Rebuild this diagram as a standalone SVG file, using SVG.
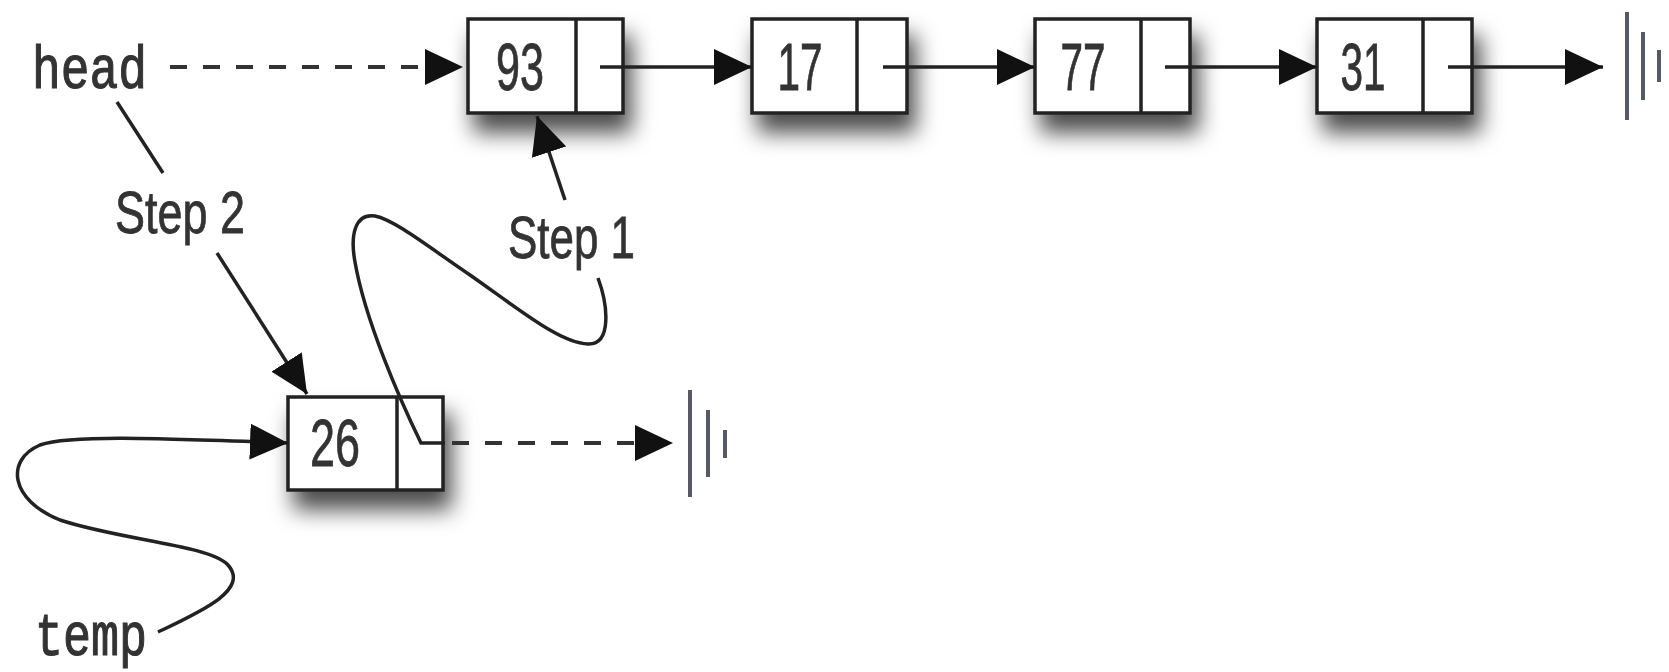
<svg xmlns="http://www.w3.org/2000/svg" width="1669" height="672" viewBox="0 0 1669 672">
<style>
.box{fill:#fff;stroke:#222;stroke-width:3.5}
.div{stroke:#222;stroke-width:3.5}
.num{font-family:"Liberation Sans",Arial,sans-serif;font-size:66px;fill:#333;stroke:#333;stroke-width:0.8;text-anchor:middle}
.lbl{font-family:"Liberation Sans",Arial,sans-serif;font-size:60px;fill:#333;stroke:#333;stroke-width:0.8}
.mono{font-family:"Liberation Mono","Courier New",monospace;font-size:62px;fill:#333;stroke:#333;stroke-width:1.2}
.ln{fill:none;stroke:#222;stroke-width:3.5}
.dash{fill:none;stroke:#333;stroke-width:4;stroke-dasharray:17 16}
.gnd{stroke:#555a66;stroke-width:4}
</style>
<defs>
<filter id="sh" x="-30%" y="-30%" width="180%" height="220%">
<feDropShadow dx="7" dy="18" stdDeviation="11" flood-color="#000" flood-opacity="0.7"/>
</filter>
<marker id="ah" viewBox="0 0 38 36" refX="38" refY="18" markerWidth="38" markerHeight="36" markerUnits="userSpaceOnUse" orient="auto">
<path d="M0,0 L38,18 L0,36 z" fill="#111"/>
</marker>
</defs>
<rect width="1669" height="672" fill="#fff"/>

<g id="node-head"><text class="mono" x="32" y="88" textLength="115" lengthAdjust="spacingAndGlyphs">head</text></g>
<g id="node-temp"><text class="mono" x="35" y="655" textLength="112" lengthAdjust="spacingAndGlyphs">temp</text></g>
<g id="node-step2"><text class="lbl" x="115" y="233" textLength="130" lengthAdjust="spacingAndGlyphs">Step 2</text></g>
<g id="node-step1"><text class="lbl" x="508" y="258" textLength="127" lengthAdjust="spacingAndGlyphs">Step 1</text></g>

<g id="node-93">
<rect class="box" x="468" y="19" width="155" height="94" filter="url(#sh)"/>
<line class="div" x1="576" y1="19" x2="576" y2="113"/>
<text class="num" x="520" y="90" textLength="48" lengthAdjust="spacingAndGlyphs">93</text>
</g>
<g id="node-17">
<rect class="box" x="752" y="19" width="155" height="94" filter="url(#sh)"/>
<line class="div" x1="857" y1="19" x2="857" y2="113"/>
<text class="num" x="800" y="90" textLength="45" lengthAdjust="spacingAndGlyphs">17</text>
</g>
<g id="node-77">
<rect class="box" x="1035" y="19" width="155" height="94" filter="url(#sh)"/>
<line class="div" x1="1141" y1="19" x2="1141" y2="113"/>
<text class="num" x="1083" y="90" textLength="45" lengthAdjust="spacingAndGlyphs">77</text>
</g>
<g id="node-31">
<rect class="box" x="1317" y="19" width="155" height="94" filter="url(#sh)"/>
<line class="div" x1="1423" y1="19" x2="1423" y2="113"/>
<text class="num" x="1363" y="90" textLength="45" lengthAdjust="spacingAndGlyphs">31</text>
</g>
<g id="node-26">
<rect class="box" x="288" y="397" width="155" height="93" filter="url(#sh)"/>
<line class="div" x1="397" y1="397" x2="397" y2="490"/>
<text class="num" x="335" y="466" textLength="50" lengthAdjust="spacingAndGlyphs">26</text>
</g>

<g id="node-null-top">
<line class="gnd" x1="1627" y1="12" x2="1627" y2="120"/>
<line class="gnd" x1="1643" y1="32" x2="1643" y2="100"/>
<line class="gnd" x1="1659" y1="50" x2="1659" y2="82"/>
</g>
<g id="node-null-bottom">
<line class="gnd" x1="690" y1="390" x2="690" y2="497"/>
<line class="gnd" x1="708" y1="410" x2="708" y2="477"/>
<line class="gnd" x1="725" y1="430" x2="725" y2="458"/>
</g>

<g id="connectors">
<line class="dash" x1="170" y1="67" x2="463" y2="67" marker-end="url(#ah)"/>
<line class="ln" x1="600" y1="67" x2="752" y2="67" marker-end="url(#ah)"/>
<line class="ln" x1="883" y1="67" x2="1035" y2="67" marker-end="url(#ah)"/>
<line class="ln" x1="1165" y1="67" x2="1317" y2="67" marker-end="url(#ah)"/>
<line class="ln" x1="1448" y1="67" x2="1603" y2="67" marker-end="url(#ah)"/>
<line class="ln" x1="117" y1="102" x2="163" y2="173"/>
<line class="ln" x1="565" y1="200" x2="537" y2="116" marker-end="url(#ah)"/>
<line class="ln" x1="217" y1="253" x2="307" y2="394" marker-end="url(#ah)"/>
<path class="ln" d="M 598 278 C 608 305, 612 345, 588 344 C 560 343, 520 310, 470 275 C 430 248, 395 220, 375 216 C 355 213, 350 235, 355 262 C 365 320, 400 400, 421 443 L 445 443"/>
<line class="dash" x1="452" y1="443" x2="673" y2="443" marker-end="url(#ah)"/>
<path class="ln" d="M 158 632 C 200 612, 250 590, 228 565 C 210 545, 120 540, 60 520 C 10 500, 5 460, 40 445 C 70 435, 150 438, 288 443" marker-end="url(#ah)"/>
</g>
</svg>
